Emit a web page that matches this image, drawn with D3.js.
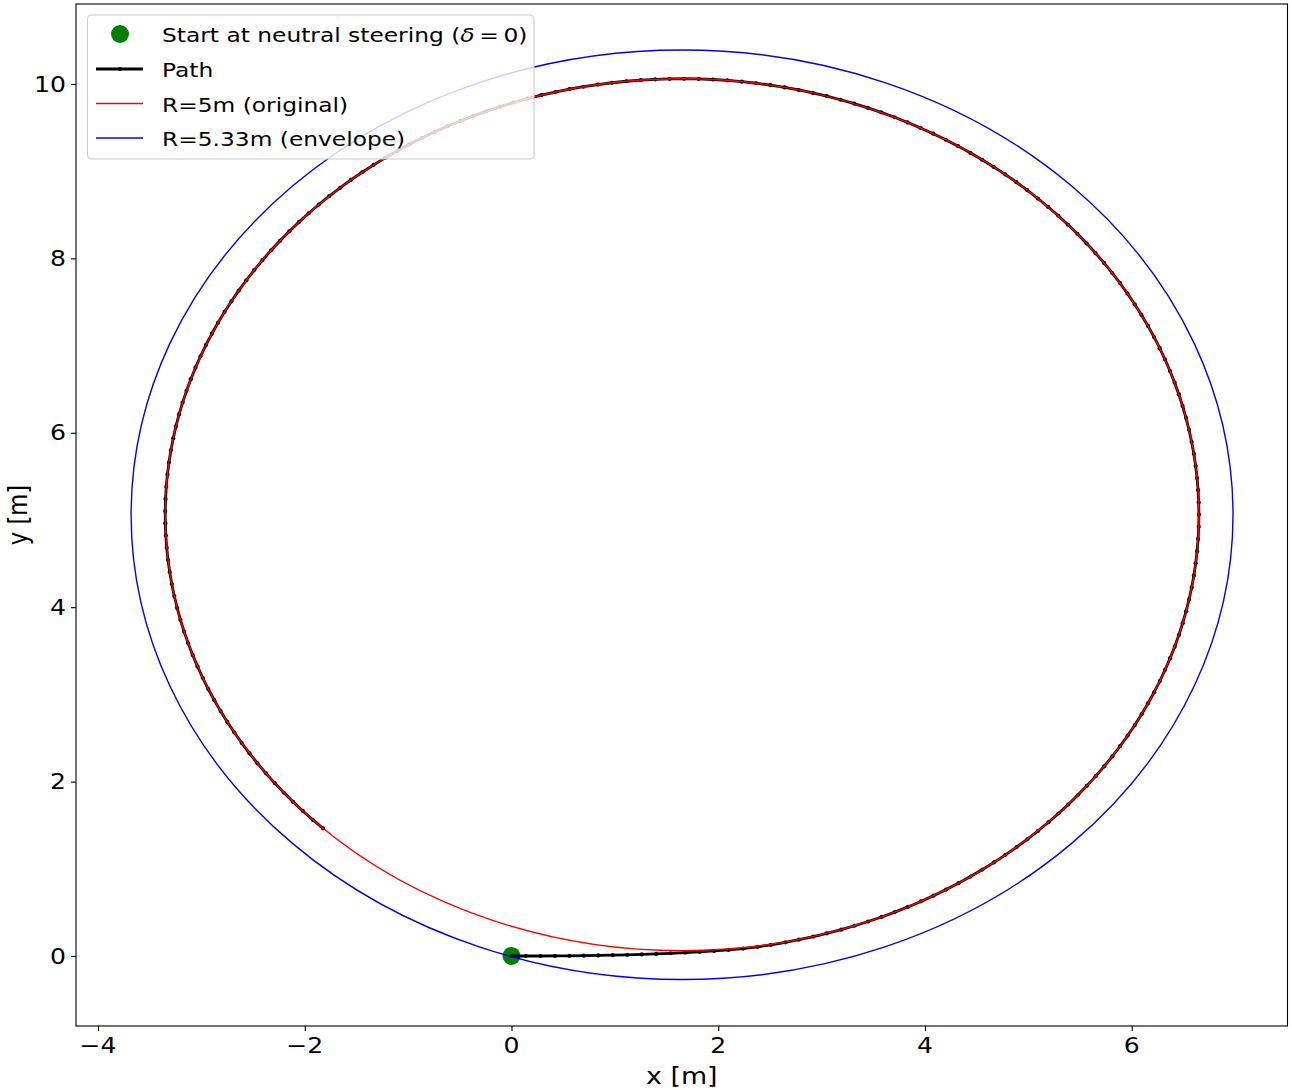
<!DOCTYPE html>
<html><head><meta charset="utf-8">
<script src="https://cdn.jsdelivr.net/npm/d3@7"></script>
<style>body{margin:0;background:#fff}svg{display:block}text{font-family:"DejaVu Sans",sans-serif}</style>
</head><body><svg id="c" width="1292" height="1090"></svg>
<script>
// ---- data ----
const xTicks = [-4, -2, 0, 2, 4, 6];
const yTicks = [0, 2, 4, 6, 8, 10];
const circleCenter = [1.65, 5.06];
const radiusOriginal = 5.0;
const radiusEnvelope = 5.33;
const startPoint = [0, 0];
// transition (neutral steering -> full lock)
const transitionX = [0.00,0.14,0.28,0.42,0.56,0.70,0.84,0.98,1.12,1.26,1.40,1.54,1.68,1.82,1.96,2.10,2.24,2.38,2.51,2.65,2.78,2.92,3.05,3.19];
const transitionY = [0.000,0.000,0.000,0.001,0.002,0.004,0.006,0.009,0.013,0.018,0.024,0.031,0.039,0.048,0.058,0.069,0.085,0.105,0.128,0.157,0.187,0.223,0.260,0.302];
// steady arc on R=5 circle (angles in degrees about the circle centre)
const arcStartDeg = -70.5;
const arcEndDeg = 226;
const arcStepDeg = 1.6;
const legendLabels = ["Start at neutral steering (", "Path", "R=5m (original)", "R=5.33m (envelope)"];

// ---- layout ----
const SX = 1.292, SY = 1.09; // figure stretch (text glyph aspect)
const svg = d3.select("#c");
const L = 76, R = 1287.5, T = 4, B = 1026;
const x = d3.scaleLinear().domain([-4.213, 7.507]).range([L, R]);
const y = d3.scaleLinear().domain([-0.803, 10.917]).range([B, T]);

function stext(parent, px, py, size, anchor, str, rot) {
  const gg = parent.append("g").attr("transform", `translate(${px},${py}) scale(${SX},${SY})` + (rot ? " rotate(-90)" : ""));
  return gg.append("text").attr("x", 0).attr("y", 0).attr("font-size", size).attr("text-anchor", anchor).attr("fill", "#000").text(str);
}

const clipId = "plotclip";
svg.append("clipPath").attr("id", clipId).append("rect")
  .attr("x", L).attr("y", T).attr("width", R - L).attr("height", B - T);
const g = svg.append("g").attr("clip-path", `url(#${clipId})`);

// path points
const pathPts = transitionX.map((d, i) => [d, transitionY[i]]);
const nArc = Math.round((arcEndDeg - arcStartDeg) / arcStepDeg);
for (let k = 0; k <= nArc; k++) {
  const a = (arcStartDeg + (arcEndDeg - arcStartDeg) * k / nArc) * Math.PI / 180;
  pathPts.push([circleCenter[0] + radiusOriginal * Math.cos(a), circleCenter[1] + radiusOriginal * Math.sin(a)]);
}

// start scatter (below lines)
g.append("circle").attr("cx", x(startPoint[0])).attr("cy", y(startPoint[1])).attr("r", 9).attr("fill", "#008000");

const line = d3.line().x(d => x(d[0])).y(d => y(d[1]));
g.append("path").datum(pathPts).attr("d", line).attr("fill", "none")
  .attr("stroke", "#000").attr("stroke-width", 2.8).attr("stroke-linejoin", "round");
g.selectAll("circle.m").data(pathPts).join("circle").attr("class", "m")
  .attr("cx", d => x(d[0])).attr("cy", d => y(d[1])).attr("r", 2.1).attr("fill", "#000");

function ring(rad, col) {
  g.append("ellipse").attr("cx", x(circleCenter[0])).attr("cy", y(circleCenter[1]))
    .attr("rx", x(rad) - x(0)).attr("ry", y(0) - y(rad))
    .attr("fill", "none").attr("stroke", col).attr("stroke-width", 1.4);
}
ring(radiusOriginal, "#ff0000");
ring(radiusEnvelope, "#0000ff");

// axes (ticks from d3 axes, labels re-set with figure stretch)
const xa = svg.append("g").attr("transform", `translate(0,${B})`)
  .call(d3.axisBottom(x).tickValues(xTicks).tickSize(5).tickFormat(""));
const ya = svg.append("g").attr("transform", `translate(${L},0)`)
  .call(d3.axisLeft(y).tickValues(yTicks).tickSize(5).tickFormat(""));
[xa, ya].forEach(a => {
  a.select(".domain").remove();
  a.selectAll("text").remove();
  a.selectAll("line").attr("stroke", "#000").attr("stroke-width", 1.1);
});
const fmt = d => d < 0 ? "\u2212" + Math.abs(d) : String(d);
const axText = svg.append("g");
xTicks.forEach(t => stext(axText, x(t), B + 27, 19.44, "middle", fmt(t)));
yTicks.forEach(t => stext(axText, L - 10, y(t) + 7.7, 19.44, "end", fmt(t)));

svg.append("rect").attr("x", L).attr("y", T).attr("width", R - L).attr("height", B - T)
  .attr("fill", "none").attr("stroke", "#000").attr("stroke-width", 1.1);

stext(svg, (L + R) / 2, 1084, 20.8, "middle", "x [m]");
stext(svg, 27, (T + B) / 2, 20.8, "middle", "y [m]", true);

// legend
const lg = svg.append("g");
lg.append("rect").attr("x", 87.5).attr("y", 15).attr("width", 446.5).attr("height", 144).attr("rx", 4)
  .attr("fill", "#fff").attr("fill-opacity", 0.8).attr("stroke", "#cccccc").attr("stroke-width", 1.1);
const rows = [34, 69, 103.5, 138];
lg.append("circle").attr("cx", 120).attr("cy", rows[0]).attr("r", 9).attr("fill", "#008000");
lg.append("line").attr("x1", 96).attr("x2", 143).attr("y1", rows[1]).attr("y2", rows[1]).attr("stroke", "#000").attr("stroke-width", 2.8);
lg.append("circle").attr("cx", 120).attr("cy", rows[1]).attr("r", 2.1).attr("fill", "#000");
lg.append("line").attr("x1", 96).attr("x2", 143).attr("y1", rows[2]).attr("y2", rows[2]).attr("stroke", "#ff0000").attr("stroke-width", 1.4);
lg.append("line").attr("x1", 96).attr("x2", 143).attr("y1", rows[3]).attr("y2", rows[3]).attr("stroke", "#0000ff").attr("stroke-width", 1.4);
legendLabels.forEach((t, i) => {
  const tx = stext(lg, 162, rows[i] + 8, 18.06, "start", t);
  if (i === 0) {
    tx.append("tspan").attr("font-style", "italic").text("\u03b4");
    tx.append("tspan").attr("dx", 3.6).text("=");
    tx.append("tspan").attr("dx", 3.6).text("0)");
  }
});
</script></body></html>
